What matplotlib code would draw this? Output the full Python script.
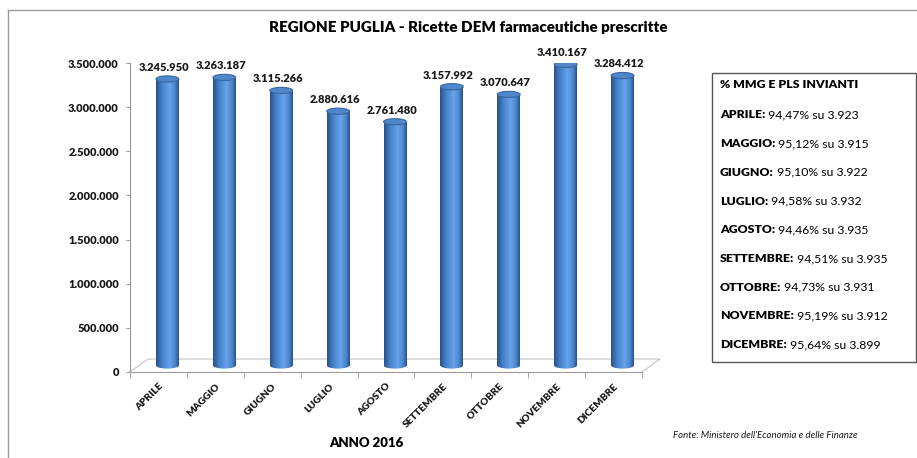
import numpy as np
import matplotlib.pyplot as plt
from matplotlib.colors import LinearSegmentedColormap
from matplotlib.patches import Ellipse, Rectangle
from matplotlib.lines import Line2D

plt.rcParams['font.family'] = ['Lato', 'DejaVu Sans']

# dati
mesi = ['APRILE', 'MAGGIO', 'GIUGNO', 'LUGLIO', 'AGOSTO', 'SETTEMBRE',
        'OTTOBRE', 'NOVEMBRE', 'DICEMBRE']
ricette = [3245950, 3263187, 3115266, 2880616, 2761480, 3157992,
           3070647, 3410167, 3284412]
perc = ['94,47%', '95,12%', '95,10%', '94,58%', '94,46%', '94,51%',
        '94,73%', '95,19%', '95,64%']
medici = ['3.923', '3.915', '3.922', '3.932', '3.935', '3.935',
          '3.931', '3.912', '3.899']
yticks = [0, 500000, 1000000, 1500000, 2000000, 2500000, 3000000, 3500000]


def fmt(n):
    return f'{n:,}'.replace(',', '.')


W, H = 917, 458
fig = plt.figure(figsize=(W / 100, H / 100), dpi=100)
ax = fig.add_axes([130 / W, 1 - 372 / H, 512 / W, 309 / H])

# profondita' del "3D"
dx, dy = 0.316, 147000
sx, sy = dx / 2, dy / 2
w = 0.40        # larghezza cilindro
eh = 70000      # altezza ellisse
PESO = 'heavy'

cmap = LinearSegmentedColormap.from_list('cil', [
    (0.0, '#28528c'), (0.25, '#4580c6'), (0.6, '#67a3ea'),
    (0.85, '#4a83c8'), (1.0, '#27518b')])
grad = np.linspace(0, 1, 64).reshape(1, -1)

x = np.arange(len(mesi))
bars = ax.bar(x + sx, ricette, bottom=sy, width=w, color='none',
              edgecolor='none', zorder=2)
for i, (b, v) in enumerate(zip(bars, ricette)):
    xc = x[i] + sx
    # fondo del cilindro
    el = Ellipse((xc, sy), w, eh, fc='none', ec='none')
    ax.add_patch(el)
    im = ax.imshow(grad, extent=[xc - w / 2, xc + w / 2, sy - eh / 2, sy],
                   aspect='auto', cmap=cmap, zorder=2, interpolation='bilinear')
    im.set_clip_path(el)
    # corpo
    im = ax.imshow(grad, extent=[xc - w / 2, xc + w / 2, sy, v + sy],
                   aspect='auto', cmap=cmap, zorder=2, interpolation='bilinear')
    im.set_clip_path(b)
    # coperchio
    ax.add_patch(Ellipse((xc, v + sy), w, eh, fc='#4f87ca', ec='#39679f',
                         lw=0.8, zorder=3))
    ax.text(xc - 0.06, v + sy + eh / 2 + 35000, fmt(v), ha='center',
            va='bottom', fontsize=8, fontweight=PESO, color='#1a1a1a')

# pavimento
ax.plot([-0.5, -0.5 + dx, 8.5 + dx, 8.5], [0, dy, dy, 0], color='#c4c4c4',
        lw=0.8, clip_on=False, zorder=1)

ax.set_xlim(-0.5, 8.5)
ax.set_ylim(0, 3500000)

for s in ['top', 'right']:
    ax.spines[s].set_visible(False)
for s in ['left', 'bottom']:
    ax.spines[s].set_color('#9a9a9a')

ax.set_yticks(yticks)
ax.set_yticklabels([fmt(t) for t in yticks], fontsize=8, fontweight=PESO)
ax.tick_params(axis='y', length=3, color='#9a9a9a', pad=5, labelcolor='#1a1a1a')
ax.set_xticks(x)
ax.set_xticklabels(mesi, fontsize=7.2, fontweight=PESO, rotation=45,
                   ha='right', rotation_mode='anchor')
ax.tick_params(axis='x', length=0, pad=7, labelcolor='#1a1a1a')
ax.set_xticks(np.arange(-0.5, 9, 1), minor=True)
ax.tick_params(axis='x', which='minor', length=4, color='#9a9a9a')

# testi
fig.text(468 / W, 1 - 28 / H,
         'REGIONE PUGLIA - Ricette DEM farmaceutiche prescritte',
         ha='center', va='center', fontsize=10.9, fontweight=PESO)
fig.text(366 / W, 1 - 443 / H, 'ANNO 2016', ha='center', va='center',
         fontsize=9.5, fontweight=PESO)
fig.text(673 / W, 1 - 436 / H, "Fonte: Ministero dell'Economia e delle Finanze",
         ha='left', va='center', fontsize=6.9, style='italic', color='#1a1a1a')

# riquadro
fig.patches.append(Rectangle((712 / W, 1 - 362 / H), 204 / W, 289 / H,
                             transform=fig.transFigure, fill=False,
                             ec='#555555', lw=1))
fig.text(720 / W, 1 - 85 / H, '% MMG E PLS INVIANTI', ha='left', va='center',
         fontsize=8.8, fontweight=PESO)
for i, m in enumerate(mesi):
    yy = 1 - (115 + i * 28.7) / H
    t = fig.text(720 / W, yy, m + ':', ha='left', va='center', fontsize=8.8,
                 fontweight=PESO)
    fig.add_artist(plt.Annotation(' ' + perc[i] + ' su ' + medici[i],
                                  xy=(1, 0), xycoords=t, va='bottom',
                                  ha='left', fontsize=8.8))

# bordo esterno
fig.add_artist(Line2D([8 / W, 8 / W], [0, 1 - 10 / H], color='#9a9a9a',
                      lw=1, transform=fig.transFigure))
fig.add_artist(Line2D([8 / W, 1], [1 - 10 / H, 1 - 10 / H], color='#9a9a9a',
                      lw=1, transform=fig.transFigure))

fig.savefig('out.png', dpi=100)
